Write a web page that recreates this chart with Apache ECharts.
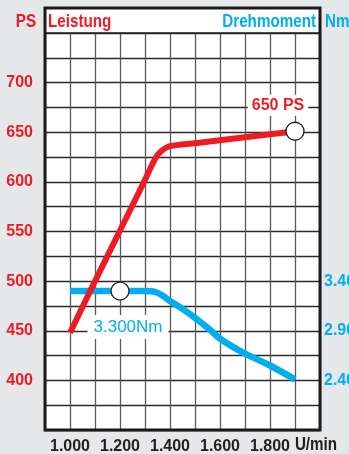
<!DOCTYPE html>
<html><head><meta charset="utf-8">
<script src="https://cdn.jsdelivr.net/npm/echarts@6/dist/echarts.min.js"></script>
<style>html,body{margin:0;padding:0;background:#e6e7e9;}#c{width:349px;height:454px;}</style>
</head><body><div id="c"></div>
<script>
// rpm / PS
const powerRpm = [1000, 1100, 1200, 1300, 1330, 1350, 1370, 1400, 1500, 1600, 1700, 1800, 1900];
const powerPS  = [448, 500, 551, 602, 618, 627, 632, 636, 639, 642, 645, 648, 651];
// rpm / Nm
const torqueRpm = [1000, 1100, 1200, 1300, 1340, 1370, 1400, 1450, 1500, 1560, 1600, 1650, 1700, 1800, 1900];
const torqueNm  = [3300, 3300, 3300, 3300, 3292, 3255, 3200, 3120, 3030, 2910, 2820, 2740, 2670, 2550, 2410];
const xTickLabels = [1000, 1200, 1400, 1600, 1800];
const leftTickLabels = [400, 450, 500, 550, 600, 650, 700];
const rightTickLabels = [2400, 2900, 3400];
const markPower = [1900, 651, '650 PS'];
const markTorque = [1200, 3300, '3.300Nm'];

const RED = '#ed1c24', BLUE = '#00aeef', INK = '#231f20';
const FONT = '"Liberation Sans", Arial, sans-serif';
const fmtThousand = v => { const s = String(Math.round(v)); return s.length > 3 ? s.slice(0, s.length - 3) + '.' + s.slice(-3) : s; };
const hdr = (text, x, y, fill, align) => ({type: 'text', x, y, scaleX: 0.8, z: 60,
  style: {text, fill, font: 'bold 19px ' + FONT, textAlign: align, textVerticalAlign: 'middle'}});

const chart = echarts.init(document.getElementById('c'), null, {renderer: 'canvas'});
chart.setOption({
  backgroundColor: '#e6e7e9',
  animation: false,
  grid: {left: 45, right: 29, top: 33, bottom: 24, containLabel: false, outerBoundsMode: 'none',
    show: true, backgroundColor: '#fff', borderWidth: 0},
  xAxis: {
    type: 'value', min: 900, max: 2000, interval: 100,
    axisLine: {show: false}, axisTick: {show: false},
    splitLine: {show: true, lineStyle: {color: '#5a5a5a', width: 1.3}},
    axisLabel: {
      margin: 9, color: INK, fontFamily: FONT, fontWeight: 'bold', fontSize: 16,
      hideOverlap: false,
      formatter: v => xTickLabels.includes(v) ? fmtThousand(v) : ''
    }
  },
  yAxis: [{
    type: 'value', min: 350, max: 750, interval: 25,
    axisLine: {show: false}, axisTick: {show: false},
    splitLine: {show: true, lineStyle: {color: '#2a2a2a', width: 1.3}},
    axisLabel: {
      margin: 12, color: RED, fontFamily: FONT, fontWeight: 'bold', fontSize: 16,
      formatter: v => leftTickLabels.includes(v) ? String(v) : ''
    }
  }, {
    type: 'value', min: 1900, max: 5900, interval: 500, position: 'right',
    axisLine: {show: false}, axisTick: {show: false}, splitLine: {show: false},
    axisLabel: {
      margin: 4, color: BLUE, fontFamily: FONT, fontWeight: 'bold', fontSize: 16,
      formatter: v => rightTickLabels.includes(Math.round(v)) ? fmtThousand(v) : ''
    }
  }],
  graphic: [
    {type: 'rect', shape: {x: 45, y: 8, width: 275, height: 25}, style: {fill: '#fff'}, z: 0},
    {type: 'line', shape: {x1: 45, y1: 33, x2: 320, y2: 33}, style: {stroke: '#222', lineWidth: 1.5}, z: 5},
    {type: 'rect', shape: {x: 45, y: 8, width: 275, height: 422}, style: {fill: 'none', stroke: '#1a1a1a', lineWidth: 3}, z: 50},
    hdr('PS', 26, 22, RED, 'center'),
    hdr('Leistung', 48, 22, RED, 'left'),
    hdr('Drehmoment', 316, 22, BLUE, 'right'),
    hdr('Nm', 325, 22, BLUE, 'left'),
    hdr('U/min', 316, 445, INK, 'center')
  ],
  series: [{
    type: 'line', yAxisIndex: 0, smooth: 0.3, symbol: 'none',
    lineStyle: {color: RED, width: 6, cap: 'butt'},
    data: powerRpm.map((r, i) => [r, powerPS[i]]), z: 10
  }, {
    type: 'line', yAxisIndex: 1, smooth: 0.3, symbol: 'none',
    lineStyle: {color: BLUE, width: 6.5, cap: 'butt'},
    data: torqueRpm.map((r, i) => [r, torqueNm[i]]), z: 9
  }, {
    type: 'scatter', yAxisIndex: 0, symbol: 'circle', symbolSize: 18,
    itemStyle: {color: '#fff', borderColor: '#222', borderWidth: 1.3, opacity: 1},
    label: {show: true, formatter: markPower[2], position: 'inside', offset: [-17, -26],
      color: RED, fontFamily: FONT, fontWeight: 'bold', fontSize: 16,
      backgroundColor: '#fff', padding: [3, 4, 2, 4]},
    data: [[markPower[0], markPower[1]]], z: 20
  }, {
    type: 'scatter', yAxisIndex: 1, symbol: 'circle', symbolSize: 18,
    itemStyle: {color: '#fff', borderColor: '#222', borderWidth: 1.3, opacity: 1},
    label: {show: true, formatter: markTorque[2], position: 'inside', offset: [8, 36],
      color: BLUE, fontFamily: FONT, fontWeight: 'normal', fontSize: 17,
      backgroundColor: '#fff', padding: [4, 6, 3, 6]},
    data: [[markTorque[0], markTorque[1]]], z: 20
  }]
});
</script></body></html>
